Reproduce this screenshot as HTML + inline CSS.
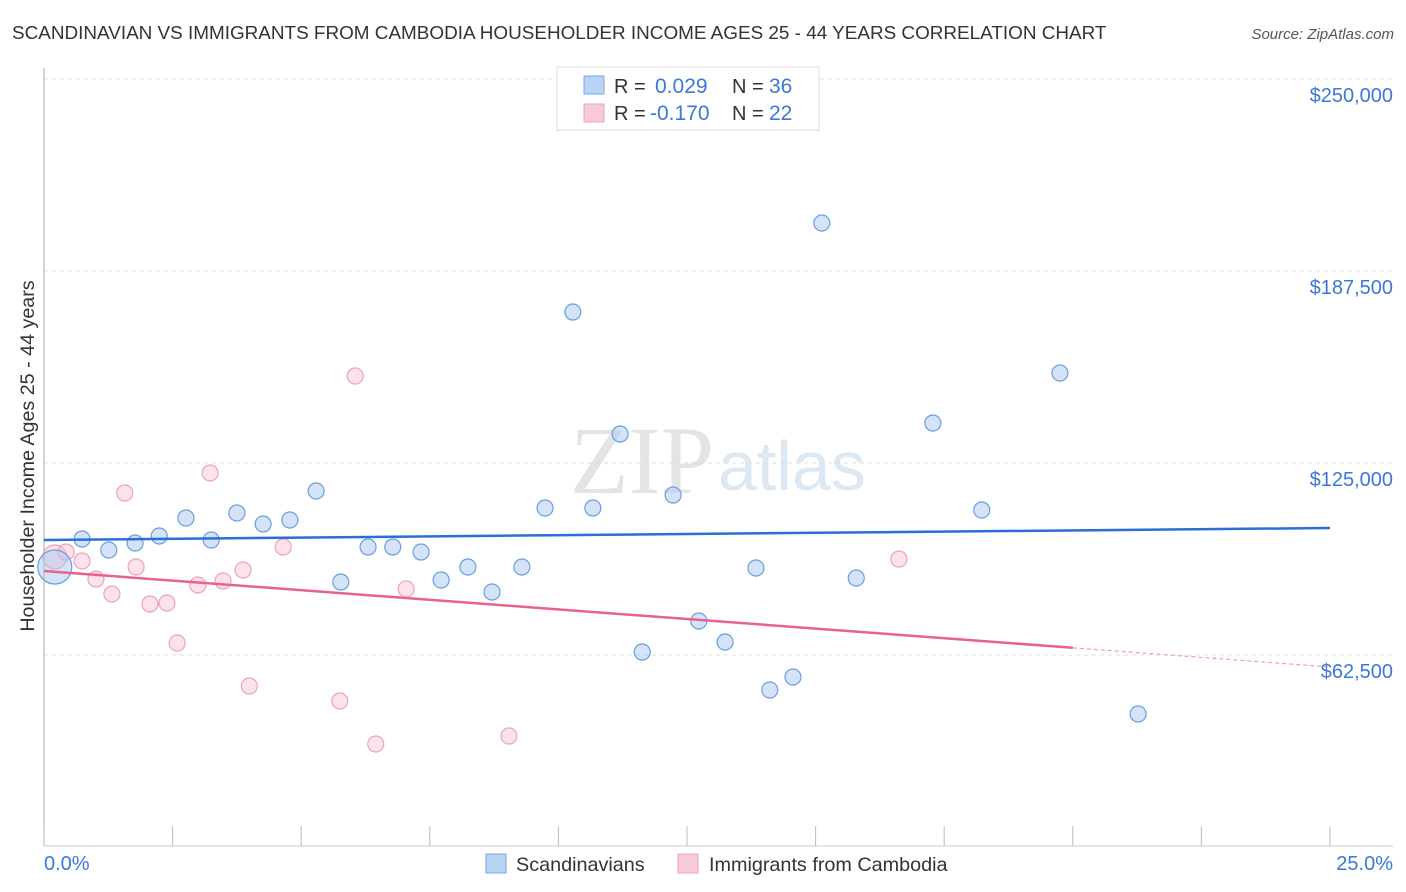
<!DOCTYPE html>
<html><head><meta charset="utf-8">
<style>
body{margin:0;background:#fff;font-family:"Liberation Sans",sans-serif;}
svg{display:block}
</style></head>
<body>
<svg id="chart" width="1406" height="892" xmlns="http://www.w3.org/2000/svg">
<text x="12" y="39" font-size="18.9" fill="#333">SCANDINAVIAN VS IMMIGRANTS FROM CAMBODIA HOUSEHOLDER INCOME AGES 25 - 44 YEARS CORRELATION CHART</text>
<text x="1394" y="39" font-size="15" fill="#555" font-style="italic" text-anchor="end">Source: ZipAtlas.com</text>
<text x="714" y="493" font-size="96" fill="#e4e4e4" font-family="Liberation Serif,serif" text-anchor="end">ZIP</text>
<text x="718" y="490" font-size="70" fill="#dde8f5">atlas</text>
<g id="grid"></g>
<line x1="44" y1="68" x2="44" y2="846" stroke="#aaa"/>
<line x1="44" y1="846" x2="1393" y2="846" stroke="#ccc"/>
<g id="xticks"></g>
<text x="34" y="456" font-size="19.7" fill="#333" text-anchor="middle" transform="rotate(-90 34 456)">Householder Income Ages 25 - 44 years</text>
<text x="44" y="870" font-size="20" fill="#3b78d8">0.0%</text>
<text x="1393" y="870" font-size="20" fill="#3b78d8" text-anchor="end">25.0%</text>
<g id="pts"></g>
<g id="lines"></g>
<g>
<rect x="557" y="67" width="262" height="63" fill="#fff" stroke="#ddd"/>
<rect x="584" y="76" width="20" height="18" fill="#b9d3f5" stroke="#7aa7e6"/>
<text x="614" y="93" font-size="20" fill="#333">R =</text>
<text x="655" y="93" font-size="21" fill="#3b78d8">0.029</text>
<text x="732" y="93" font-size="20" fill="#333">N =</text>
<text x="769" y="93" font-size="21" fill="#3b78d8">36</text>
<rect x="584" y="104" width="20" height="18" fill="#f8c9d7" stroke="#eda2b8"/>
<text x="614" y="120" font-size="20" fill="#333">R =</text>
<text x="650" y="120" font-size="21" fill="#3b78d8">-0.170</text>
<text x="732" y="120" font-size="20" fill="#333">N =</text>
<text x="769" y="120" font-size="21" fill="#3b78d8">22</text>
</g>
<g>
<rect x="486" y="854" width="20" height="19" fill="#b9d3f5" stroke="#7aa7e6"/>
<text x="516" y="871" font-size="19.8" fill="#333">Scandinavians</text>
<rect x="678" y="854" width="20" height="19" fill="#f8c9d7" stroke="#eda2b8"/>
<text x="709" y="871" font-size="19.8" fill="#333">Immigrants from Cambodia</text>
</g>
</svg>
<script>
const yTicks=[62500,125000,187500,250000];
const yTickLabels=["$62,500","$125,000","$187,500","$250,000"];
const xTicks=[0,2.5,5,7.5,10,12.5,15,17.5,20,22.5,25];
const blueX=[0.21,0.74,1.26,1.77,2.24,2.76,3.25,3.75,4.26,4.78,5.29,5.77,6.30,6.78,7.33,7.72,8.24,8.71,9.29,9.74,10.28,10.67,11.20,11.63,12.23,12.73,13.24,13.84,14.11,14.56,15.12,15.79,17.28,18.23,19.75,21.27];
const blueY=[91144,100258,96678,98956,101235,107094,99933,108721,105141,106443,115882,86262,97654,97654,96027,86913,91144,83007,91144,110349,174147,110349,134436,63477,114580,73567,66732,90819,51107,55339,203116,87564,138016,109698,154291,43295];
const pinkX=[0.21,0.43,0.74,1.01,1.32,1.57,1.79,2.06,2.39,2.59,2.99,3.23,3.48,3.87,3.99,4.65,5.75,6.05,6.45,7.04,9.04,16.62];
const pinkY=[94399,96027,93097,87238,82356,115231,91144,79101,79426,66406,85285,121741,86587,90168,52409,97654,47527,153315,33530,83983,36134,93748];
const blueTrend=[99933,103838];
const pinkTrend=[89842,58594];
const pinkSolidEnd=20;
const X=p=>44+(p/25)*1286;
const Y=v=>655-(v-62500)/62500*192;
const NS="http://www.w3.org/2000/svg";
function mk(tag,attrs,parent){const e=document.createElementNS(NS,tag);for(const k in attrs)e.setAttribute(k,attrs[k]);parent.appendChild(e);return e;}
const grid=document.getElementById('grid');
yTicks.forEach((t,i)=>{
 const l=mk('line',{x1:44,x2:1393,y1:Y(t),y2:Y(t),stroke:'#ddd','stroke-dasharray':'4,4'},grid);
 
 
 const tx=mk('text',{x:1393,y:Y(t)+23,'font-size':20,fill:'#3b78d8','text-anchor':'end'},grid);
 tx.textContent=yTickLabels[i];
 
 
});
const topGrid=mk('line',{x1:44,x2:1393,y1:79,y2:79,stroke:'#ddd','stroke-dasharray':'4,4'},grid);


const xt=document.getElementById('xticks');
xTicks.forEach(t=>{
 const l=mk('line',{x1:X(t),x2:X(t),y1:826,y2:846,stroke:'#bbb'},xt);
 
 
});
const pts=document.getElementById('pts');
pinkX.forEach((x,i)=>{
 const c=mk('circle',{cx:X(x),cy:Y(pinkY[i]),r:i==0?12:8,fill:'rgba(248,190,210,0.45)',stroke:'#eda2b8','stroke-width':1.2},pts);
 
 
});
blueX.forEach((x,i)=>{
 const c=mk('circle',{cx:X(x),cy:Y(blueY[i]),r:i==0?17:8,fill:'rgba(170,200,240,0.5)',stroke:'#6a9ee0','stroke-width':1.2},pts);
 
 
});
const lines=document.getElementById('lines');
const bl=mk('line',{x1:X(0),y1:Y(blueTrend[0]),x2:X(25),y2:Y(blueTrend[1]),stroke:'#2a6fd6','stroke-width':2.5},lines);


const pAt=p=>pinkTrend[0]+(pinkTrend[1]-pinkTrend[0])*p/25;
const pl=mk('line',{x1:X(0),y1:Y(pinkTrend[0]),x2:X(pinkSolidEnd),y2:Y(pAt(pinkSolidEnd)),stroke:'#e8628f','stroke-width':2.5},lines);


const pd=mk('line',{x1:X(pinkSolidEnd),y1:Y(pAt(pinkSolidEnd)),x2:X(25),y2:Y(pinkTrend[1]),stroke:'#e8a0b8','stroke-width':1.2,'stroke-dasharray':'4,3'},lines);


</script>
</body></html>
